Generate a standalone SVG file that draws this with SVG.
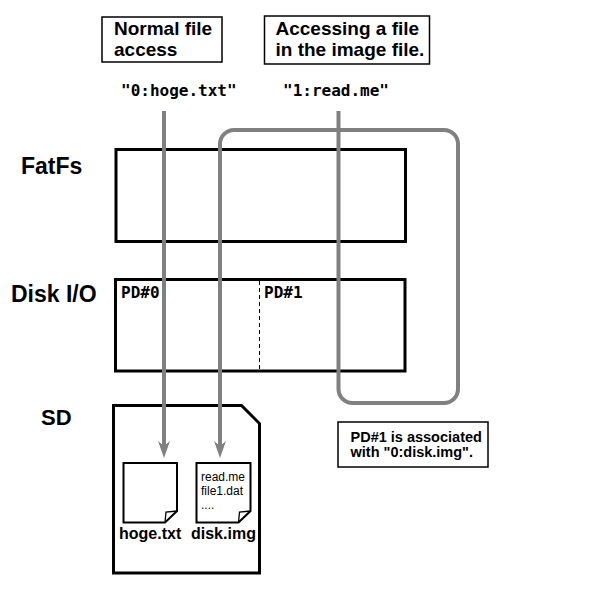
<svg xmlns="http://www.w3.org/2000/svg" width="600" height="600" viewBox="0 0 600 600">
<style>
.bx{fill:#fff;stroke:#000;stroke-width:3}
.nb{fill:#fff;stroke:#000;stroke-width:1.5}
.lbl{font-family:"Liberation Sans",Arial,sans-serif;font-weight:bold;fill:#000}
.mono{font-family:"DejaVu Sans Mono","Liberation Mono",monospace;font-weight:bold;fill:#000}
.small{font-family:"Liberation Sans",Arial,sans-serif;font-size:12px;fill:#000}
.conn{fill:none;stroke:#808080;stroke-width:4}
.doc{fill:#fff;stroke:#000;stroke-width:2;stroke-linejoin:miter}
</style>
<defs>
<marker id="ah" markerUnits="userSpaceOnUse" viewBox="-7 -18 14 18" refX="0" refY="0" markerWidth="14" markerHeight="18" orient="auto-start-reverse">
<path d="M0,0 L-6,-17 L0,-12 L6,-17 Z" fill="#808080" transform="rotate(-90)"/>
</marker>
</defs>
<rect width="600" height="600" fill="#fff"/>

<g id="note-normal">
<rect class="nb" x="102" y="17" width="120" height="45"/>
<text class="lbl" x="114" y="35" font-size="19">Normal file</text>
<text class="lbl" x="114" y="56" font-size="19">access</text>
</g>
<g id="note-image">
<rect class="nb" x="264.5" y="16" width="165" height="48"/>
<text class="lbl" x="275.5" y="35" font-size="19">Accessing a file</text>
<text class="lbl" x="275.5" y="56" font-size="19">in the image file.</text>
</g>
<g id="path-0">
<text class="mono" x="121" y="96" font-size="16">"0:hoge.txt"</text>
</g>
<g id="path-1">
<text class="mono" x="283" y="96" font-size="16">"1:read.me"</text>
</g>

<g id="layer-labels">
<text class="lbl" x="21" y="174" font-size="23">FatFs</text>
<text class="lbl" x="11" y="302" font-size="23">Disk I/O</text>
<text class="lbl" x="41" y="425" font-size="22">SD</text>
</g>

<g id="fatfs">
<rect class="bx" x="116" y="149.5" width="289.5" height="92"/>
</g>
<g id="diskio">
<rect class="bx" x="115.5" y="279.5" width="289.5" height="91.5"/>
<line x1="259.5" y1="281" x2="259.5" y2="370" stroke="#000" stroke-width="1" stroke-dasharray="4,3"/>
<text class="mono" x="121" y="298" font-size="16">PD#0</text>
<text class="mono" x="264" y="298" font-size="16">PD#1</text>
</g>

<g id="sd">
<path d="M113.5,405.5 H241.5 L259.5,423.5 V573 H113.5 Z" fill="#fff" stroke="#000" stroke-width="3" stroke-linejoin="miter"/>
</g>
<g id="hoge-txt">
<path class="doc" d="M123.5,463 H177 V511 L165,522.5 H123.5 Z"/>
<path d="M165,522.5 L166,512 L177,511" fill="none" stroke="#000" stroke-width="1.3"/>
<text class="lbl" x="119" y="539" font-size="16">hoge.txt</text>
</g>
<g id="disk-img">
<path class="doc" d="M196.5,463 H250.5 V511 L238.5,522.5 H196.5 Z"/>
<path d="M238.5,522.5 L239.5,512 L250.5,511" fill="none" stroke="#000" stroke-width="1.3"/>
<text class="small" x="201" y="481">read.me</text>
<text class="small" x="201" y="495">file1.dat</text>
<text class="small" x="201" y="509">....</text>
<text class="lbl" x="191" y="539" font-size="16">disk.img</text>
</g>

<g id="note-assoc">
<rect class="nb" x="338" y="422" width="150" height="45"/>
<text class="lbl" x="350.5" y="441.5" font-size="14.5">PD#1 is associated</text>
<text class="lbl" x="350.5" y="456.5" font-size="14.5">with "0:disk.img".</text>
</g>

<g id="connectors">
<line class="conn" x1="164" y1="111" x2="164" y2="447"/>
<path d="M164,458 L158,441 L164,446 L170,441 Z" fill="#808080"/>
<path class="conn" d="M338.5,111 V389 A14,14 0 0 0 352.5,403 H444 A14,14 0 0 0 458,389 V144 A14,14 0 0 0 444,130 H234 A14,14 0 0 0 220,144 V447"/>
<path d="M220,458 L214,441 L220,446 L226,441 Z" fill="#808080"/>
</g>
</svg>
